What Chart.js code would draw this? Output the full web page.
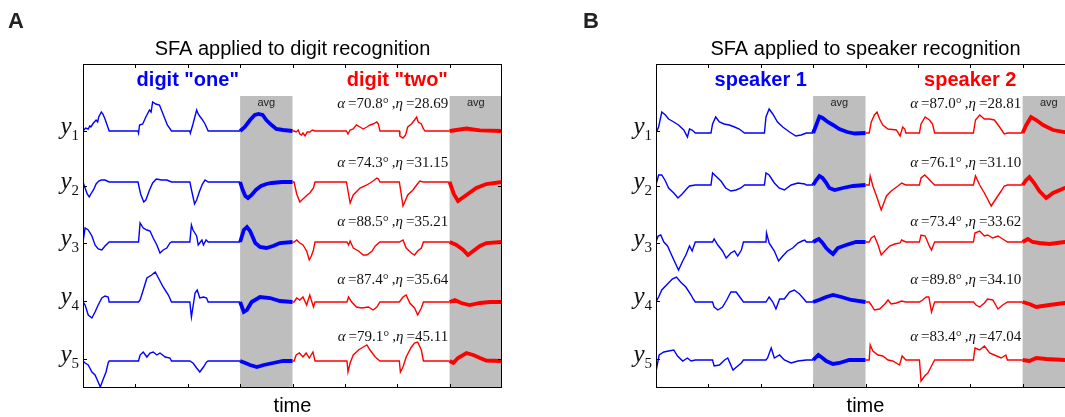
<!DOCTYPE html>
<html>
<head>
<meta charset="utf-8">
<script src="https://cdn.jsdelivr.net/npm/chart.js@4/dist/chart.umd.min.js"></script>
<style>
  html, body { margin: 0; padding: 0; background: #fff; overflow: hidden; width: 1065px; height: 417px; }
  .panel { position: absolute; top: 0; height: 417px; }
  #boxA { left: 0; width: 530px; }
  #boxB { left: 560px; width: 530px; }
</style>
</head>
<body>
<div class="panel" id="boxA"><canvas id="chartA" width="530" height="417"></canvas></div>
<div class="panel" id="boxB"><canvas id="chartB" width="530" height="417"></canvas></div>
<script>
// x runs over 8 slots: 3 word slots + avg, 3 word slots + avg
const xTicks = [1, 2, 3, 4, 5, 6, 7];
const avgBands = [[3, 4], [7, 8]];
const rowLabels = ["1", "2", "3", "4", "5"];
const rowTicks = [-66.5, -122, -179, -237, -295];
const annotY = [-40, -99, -158, -216, -273];

// resting level of each output row
const digitBase = [-67, -118, -178, -238, -297];
const speakerBase = [-69, -121, -178, -238, -296];

const digitAlpha = ["70.8", "74.3", "88.5", "87.4", "79.1"];
const digitEta = ["28.69", "31.15", "35.21", "35.64", "45.11"];
const speakerAlpha = ["87.0", "76.1", "73.4", "89.8", "83.4"];
const speakerEta = ["28.81", "31.10", "33.62", "34.10", "47.04"];

// [x, deviation] per row
const digitOne = [
  [[0,0],[0.05,3],[0.1,2],[0.13,5],[0.15,4],[0.2,8],[0.25,11],[0.28,9],[0.3,14],[0.35,19],[0.38,17],[0.42,12],[0.5,0],[1.05,0],[1.06,-2],[1.08,6],[1.14,7],[1.2,14],[1.27,21],[1.3,19],[1.33,29],[1.39,27],[1.46,26],[1.55,14],[1.61,6],[1.69,0],[2.04,0],[2.05,-2],[2.1,7],[2.17,21],[2.2,17],[2.24,14],[2.27,12],[2.33,7],[2.39,0],[3,0]],
  [[0,0],[0.04,-6],[0.08,-12],[0.12,-15],[0.16,-11],[0.2,-8],[0.25,-2],[0.3,1],[0.35,2],[0.42,2],[0.5,0],[1.05,0],[1.1,-12],[1.16,-20],[1.2,-18],[1.27,-8],[1.33,-1],[1.4,3],[1.5,2],[1.6,2],[1.69,0],[2.04,0],[2.08,-10],[2.13,-22],[2.17,-18],[2.22,-10],[2.28,-2],[2.33,2],[2.39,0],[3,0]],
  [[0,0],[0.04,14],[0.1,12],[0.17,6],[0.23,-3],[0.29,-7],[0.36,-8],[0.42,-4],[0.5,0],[1.06,0],[1.09,19],[1.15,14],[1.22,12],[1.28,11],[1.34,4],[1.41,-3],[1.47,-11],[1.53,-8],[1.6,-6],[1.66,-1],[1.69,0],[2.04,0],[2.07,17],[2.1,12],[2.17,6],[2.2,-3],[2.27,2],[2.3,-3],[2.35,2],[2.39,0],[3,0]],
  [[0,0],[0.04,-3],[0.1,-13],[0.17,-16],[0.23,-10],[0.29,-3],[0.36,4],[0.42,6],[0.48,5],[0.5,0],[1.06,0],[1.09,2],[1.15,12],[1.22,24],[1.31,27],[1.38,30],[1.44,24],[1.53,15],[1.63,7],[1.69,0],[2.04,0],[2.07,-15],[2.14,9],[2.18,12],[2.23,4],[2.3,5],[2.36,4],[2.39,0],[3,0]],
  [[0,0],[0.04,-2],[0.1,-4],[0.17,-11],[0.23,-14],[0.29,-21],[0.33,-26],[0.38,-19],[0.44,-11],[0.48,-2],[0.5,0],[1.06,0],[1.09,6],[1.15,9],[1.22,4],[1.28,8],[1.34,9],[1.41,6],[1.47,8],[1.57,4],[1.66,3],[1.69,0],[2.04,0],[2.1,-2],[2.17,-7],[2.23,-11],[2.3,-6],[2.36,-1],[2.39,0],[3,0]]
];
const digitOneAvg = [
  [[3,0],[3.09,4],[3.19,11],[3.28,16],[3.35,17],[3.43,16],[3.5,11],[3.6,6],[3.69,2],[3.82,1],[4,0]],
  [[3,0],[3.05,-8],[3.1,-14],[3.15,-16],[3.22,-13],[3.3,-8],[3.4,-4],[3.5,-2],[3.6,-1],[3.8,0],[4,0]],
  [[3,0],[3.07,12],[3.13,15],[3.19,11],[3.29,-1],[3.38,-5],[3.5,-6],[3.63,-4],[3.76,-1],[4,0]],
  [[3,0],[3.07,-10],[3.13,-8],[3.22,0],[3.38,5],[3.57,4],[3.76,1],[4,0]],
  [[3,0],[3.1,-2],[3.19,-4],[3.32,-6],[3.45,-4],[3.63,-2],[3.82,0],[4,0]]
];
const digitTwo = [
  [[4,0],[4.03,0],[4.07,-1],[4.11,1],[4.14,-3],[4.17,-4],[4.2,-2],[4.24,-5],[4.28,-1],[4.33,-1],[4.38,1],[4.43,0],[5.03,0],[5.06,-3],[5.1,1],[5.16,2],[5.22,6],[5.29,4],[5.35,2],[5.42,4],[5.48,6],[5.54,7],[5.61,9],[5.64,7],[5.67,0],[6.04,0],[6.05,-5],[6.11,-7],[6.16,-4],[6.2,4],[6.27,7],[6.33,11],[6.37,14],[6.4,9],[6.46,7],[6.5,2],[6.53,0],[7,0]],
  [[4,0],[4.03,0],[4.08,-12],[4.14,-20],[4.2,-17],[4.28,-13],[4.33,-11],[4.4,-6],[4.43,0],[5.03,0],[5.1,-21],[5.16,-13],[5.29,-6],[5.42,-3],[5.54,1],[5.61,4],[5.64,3],[5.67,0],[6.04,0],[6.11,-24],[6.2,-13],[6.3,-8],[6.37,-3],[6.43,1],[6.5,0],[7,0]],
  [[4,0],[4.03,0],[4.08,2],[4.14,-1],[4.2,-3],[4.27,-9],[4.32,-18],[4.36,-14],[4.4,-8],[4.43,0],[5.04,0],[5.07,-3],[5.1,1],[5.16,-6],[5.26,-9],[5.35,-13],[5.42,-13],[5.52,-9],[5.58,-4],[5.67,0],[6.04,0],[6.11,2],[6.17,-6],[6.27,-11],[6.33,-13],[6.39,-9],[6.46,-6],[6.5,0],[7,0]],
  [[4,0],[4.03,0],[4.08,4],[4.14,2],[4.2,5],[4.27,-3],[4.33,7],[4.4,-5],[4.43,0],[5.04,0],[5.07,5],[5.13,0],[5.22,-5],[5.32,-6],[5.45,-5],[5.54,-8],[5.61,-5],[5.67,0],[6.04,0],[6.11,5],[6.17,7],[6.24,-1],[6.33,-6],[6.39,-13],[6.46,-6],[6.5,0],[7,0]],
  [[4,0],[4.03,0],[4.07,6],[4.13,8],[4.2,4],[4.26,8],[4.32,3],[4.39,9],[4.43,0],[5.04,0],[5.06,-11],[5.1,-2],[5.16,6],[5.26,11],[5.35,14],[5.42,16],[5.48,11],[5.58,4],[5.67,0],[6.04,0],[6.06,-11],[6.11,-6],[6.17,4],[6.27,14],[6.33,18],[6.39,19],[6.46,11],[6.5,0],[7,0]]
];
const digitTwoAvg = [
  [[7,0],[7.13,1],[7.32,2.5],[7.45,1.5],[7.58,0.7],[8,0]],
  [[7,0],[7.08,-12],[7.16,-19],[7.32,-13],[7.51,-6],[7.7,-2],[8,0]],
  [[7,0],[7.13,-3],[7.26,-8],[7.35,-13],[7.45,-9],[7.58,-4],[7.7,-1],[8,0]],
  [[7,0],[7.1,2],[7.22,-1],[7.38,-3],[7.58,-1],[7.77,0],[8,0]],
  [[7,0],[7.07,-2],[7.16,3],[7.32,8],[7.45,6],[7.58,3],[7.7,0.5],[8,0]]
];

const speakerOne = [
  [[0,0],[0.05,6],[0.11,21],[0.18,18],[0.24,14],[0.34,11],[0.43,8],[0.53,3],[0.6,-4],[0.64,4],[0.69,3],[0.75,0],[1.05,0],[1.08,9],[1.14,16],[1.21,11],[1.3,9],[1.4,8],[1.5,6],[1.59,4],[1.69,0],[2.07,0],[2.1,16],[2.16,24],[2.23,19],[2.32,11],[2.42,6],[2.55,1],[2.67,-3],[2.77,-2],[2.87,0],[3,0]],
  [[0,0],[0.05,10],[0.11,10],[0.18,4],[0.24,-3],[0.34,-8],[0.42,-13],[0.5,-9],[0.6,-3],[0.64,-1],[0.75,0],[1.05,0],[1.08,12],[1.14,9],[1.24,4],[1.33,-3],[1.43,-6],[1.53,-5],[1.62,-3],[1.69,0],[2.07,0],[2.1,12],[2.16,10],[2.26,2],[2.35,-3],[2.45,-5],[2.58,0],[2.71,2],[2.84,1],[2.87,0],[3,0]],
  [[0,0],[0.04,6],[0.09,7],[0.15,0],[0.22,-4],[0.28,-11],[0.35,-19],[0.43,-28],[0.51,-19],[0.57,-13],[0.64,-4],[0.69,-9],[0.75,0],[1.08,0],[1.11,3],[1.18,-3],[1.27,-9],[1.34,-16],[1.43,-11],[1.5,-9],[1.56,-14],[1.63,-8],[1.67,0],[2.1,0],[2.11,9],[2.16,-1],[2.26,-9],[2.34,-19],[2.42,-14],[2.51,-9],[2.61,-6],[2.71,-1],[2.79,1],[2.84,2],[2.87,0],[3,0]],
  [[0,0],[0.05,5],[0.11,12],[0.22,18],[0.31,23],[0.39,25],[0.47,20],[0.57,15],[0.67,7],[0.71,3],[0.75,0],[1.08,0],[1.11,-5],[1.18,-8],[1.27,-5],[1.35,2],[1.43,10],[1.53,10],[1.6,5],[1.67,0],[2.1,0],[2.16,5],[2.23,0],[2.29,-7],[2.36,3],[2.45,3],[2.55,10],[2.64,12],[2.74,8],[2.84,2],[2.87,0],[3,0]],
  [[0,0],[0.02,-6],[0.06,5],[0.15,8],[0.24,9],[0.34,10],[0.41,4],[0.51,-1],[0.6,2],[0.67,-1],[0.75,0],[1.08,0],[1.11,-6],[1.21,-5],[1.31,0],[1.37,2],[1.47,-10],[1.56,-6],[1.63,-3],[1.67,0],[2.1,0],[2.13,2],[2.2,12],[2.26,2],[2.36,5],[2.45,0],[2.58,-3],[2.71,-1],[2.87,0],[3,0]]
];
const speakerOneAvg = [
  [[3,0],[3.06,8],[3.12,16.5],[3.18,15],[3.28,11],[3.38,8],[3.5,4],[3.65,1],[3.8,-0.5],[4,0]],
  [[3,0],[3.06,5],[3.12,9],[3.18,7],[3.24,3],[3.31,-3],[3.41,-5],[3.57,-3],[3.76,-1],[4,0]],
  [[3,0],[3.07,2],[3.11,3],[3.18,-1],[3.25,-6],[3.31,-9],[3.38,-12],[3.47,-6],[3.63,-3],[3.82,0],[4,0]],
  [[3,0],[3.11,2],[3.25,5],[3.38,7],[3.54,5],[3.73,2],[4,0]],
  [[3,0],[3.1,5],[3.18,2],[3.25,-1],[3.38,-4],[3.5,-3],[3.69,0],[4,0]]
];
const speakerTwo = [
  [[4,0],[4.07,0],[4.11,11],[4.17,18],[4.22,21],[4.27,14],[4.33,8],[4.43,4],[4.59,3],[4.66,-3],[4.71,6],[4.75,4],[4.77,0],[5.03,0],[5.06,9],[5.14,16],[5.22,13],[5.28,9],[5.32,0],[6.06,0],[6.1,13],[6.18,18],[6.27,14],[6.37,14],[6.46,13],[6.56,6],[6.65,-1],[6.71,0],[7,0]],
  [[4,0],[4.07,0],[4.09,9],[4.14,-1],[4.21,-11],[4.3,-25],[4.4,-11],[4.49,-6],[4.62,-1],[4.69,2],[4.77,0],[5.03,0],[5.06,7],[5.13,10],[5.19,7],[5.28,2],[5.32,0],[6.06,0],[6.1,9],[6.18,0],[6.27,-8],[6.4,-21],[6.5,-13],[6.59,-6],[6.65,-1],[6.71,0],[7,0]],
  [[4,0],[4.07,0],[4.11,4],[4.17,6],[4.24,-3],[4.3,-13],[4.37,-9],[4.46,-4],[4.56,-2],[4.66,-1],[4.69,2],[4.77,0],[5.03,0],[5.06,7],[5.14,6],[5.21,-3],[5.26,-8],[5.32,0],[6.06,0],[6.09,9],[6.18,11],[6.27,6],[6.33,7],[6.43,4],[6.53,6],[6.62,3],[6.71,0],[7,0]],
  [[4,0],[4.07,0],[4.11,-3],[4.17,-8],[4.27,-7],[4.37,-2],[4.43,2],[4.49,-2],[4.59,-1],[4.69,1],[4.77,0],[5.03,0],[5.09,2],[5.16,5],[5.21,5],[5.26,-10],[5.32,0],[6.06,0],[6.11,-3],[6.18,-5],[6.27,-1],[6.33,3],[6.43,2],[6.53,-7],[6.62,-3],[6.71,0],[7,0]],
  [[4,0],[4.07,0],[4.09,15],[4.14,9],[4.24,5],[4.33,4],[4.43,0],[4.52,-1],[4.65,-5],[4.7,4],[4.77,0],[5.03,0],[5.06,-21],[5.13,-16],[5.19,-13],[5.26,-6],[5.32,0],[6.06,0],[6.09,12],[6.18,10],[6.27,14],[6.37,7],[6.46,5],[6.59,2],[6.68,5],[6.71,0],[7,0]]
];
const speakerTwoAvg = [
  [[7,0],[7.07,8],[7.16,16],[7.26,13],[7.39,8],[7.58,3],[7.8,1],[8,0]],
  [[7,0],[7.07,5],[7.13,8],[7.22,2],[7.32,-6],[7.45,-13],[7.58,-8],[7.8,-3],[8,0]],
  [[7,0],[7.1,3],[7.19,0],[7.32,-1],[7.51,-2],[7.8,0],[8,0]],
  [[7,0],[7.13,-2],[7.26,-5],[7.51,-3],[7.8,-1],[8,0]],
  [[7,0],[7.13,-1],[7.26,2],[7.45,1],[7.8,0],[8,0]]
];

const BLUE = "#0000ff";
const RED = "#ff0000";
const SANS = '"Liberation Sans", Arial, sans-serif';
const SERIF = '"Liberation Serif", "Times New Roman", serif';

// one dataset per trace, shifted to its row
function traces(rows, base, color, width) {
  return rows.map((pts, r) => ({
    data: pts.map(([x, d]) => ({ x: x, y: base[r] + d })),
    borderColor: color,
    borderWidth: width,
    pointRadius: 0,
    showLine: true,
    tension: 0,
    fill: false
  }));
}

// alpha / eta label, right aligned
function drawStat(ctx, xr, yc, alpha, eta) {
  const parts = [
    ["α", "italic 15px " + SERIF],
    ["\u2009=" + alpha + "°\u2009,", "15px " + SERIF],
    ["η", "italic 15px " + SERIF],
    ["\u2009=" + eta, "15px " + SERIF]
  ];
  let w = 0;
  parts.forEach(p => { ctx.font = p[1]; w += ctx.measureText(p[0]).width; });
  let x = xr - w;
  ctx.textAlign = "left";
  ctx.textBaseline = "middle";
  ctx.fillStyle = "#111";
  parts.forEach(p => { ctx.font = p[1]; ctx.fillText(p[0], x, yc); x += ctx.measureText(p[0]).width; });
}

const decoPlugin = {
  id: "deco",
  beforeDatasetsDraw(chart, args, o) {
    const { ctx, chartArea: a, scales: { x, y } } = chart;
    ctx.save();
    ctx.fillStyle = "#bebebe";
    const top = y.getPixelForValue(-32);
    avgBands.forEach(([x0, x1]) => {
      const p0 = x.getPixelForValue(x0), p1 = x.getPixelForValue(x1);
      ctx.fillRect(p0, top, p1 - p0, a.bottom - top);
    });
    ctx.fillStyle = "#222";
    ctx.font = "11px " + SANS;
    ctx.textAlign = "center";
    ctx.textBaseline = "middle";
    avgBands.forEach(([x0, x1]) => {
      ctx.fillText("avg", x.getPixelForValue((x0 + x1) / 2), y.getPixelForValue(-38.5));
    });
    ctx.restore();
  },
  afterDatasetsDraw(chart, args, o) {
    const { ctx, chartArea: a, scales: { x, y } } = chart;
    ctx.save();
    // stats
    annotY.forEach((v, i) => drawStat(ctx, x.getPixelForValue(7) - 1.5, y.getPixelForValue(v), o.alpha[i], o.eta[i]));
    // box and ticks
    ctx.strokeStyle = "#000";
    ctx.lineWidth = 1;
    ctx.strokeRect(a.left + 0.5, a.top + 0.5, a.right - a.left - 1, a.bottom - a.top - 1);
    ctx.beginPath();
    xTicks.forEach(t => {
      const px = Math.round(x.getPixelForValue(t)) + 0.5;
      ctx.moveTo(px, a.top); ctx.lineTo(px, a.top + 4);
      ctx.moveTo(px, a.bottom); ctx.lineTo(px, a.bottom - 4);
    });
    rowTicks.forEach(t => {
      const py = Math.round(y.getPixelForValue(t)) + 0.5;
      ctx.moveTo(a.left, py); ctx.lineTo(a.left + 4, py);
      ctx.moveTo(a.right, py); ctx.lineTo(a.right - 4, py);
    });
    ctx.stroke();
    // row labels y_1 .. y_5
    ctx.fillStyle = "#111";
    ctx.textBaseline = "alphabetic";
    rowTicks.forEach((t, i) => {
      const py = y.getPixelForValue(t);
      ctx.font = "15px " + SERIF;
      const sw = ctx.measureText(rowLabels[i]).width;
      ctx.textAlign = "right";
      ctx.fillText(rowLabels[i], a.left - 4, py + 9);
      ctx.font = "italic 25px " + SERIF;
      ctx.fillText("y", a.left - 4 - sw, py + 3);
    });
    // headings inside the box
    ctx.textAlign = "center";
    ctx.font = "bold 20px " + SANS;
    ctx.fillStyle = BLUE;
    ctx.fillText(o.left, x.getPixelForValue(2), 86);
    ctx.fillStyle = RED;
    ctx.fillText(o.right, x.getPixelForValue(6), 86);
    // title, x label, panel letter
    const cx = (a.left + a.right) / 2;
    ctx.fillStyle = "#000";
    ctx.font = "20px " + SANS;
    ctx.fillText(o.title, cx, 55);
    ctx.fillText("time", cx, 412);
    ctx.font = "bold 22px " + SANS;
    ctx.fillStyle = "#222";
    ctx.textAlign = "left";
    ctx.fillText(o.letter, o.letterX, 28);
    ctx.restore();
  }
};

function makePanel(id, pad, words1, avg1, words2, avg2, base, deco) {
  return new Chart(document.getElementById(id), {
    type: "scatter",
    data: {
      datasets: [
        ...traces(words1, base, BLUE, 1.4),
        ...traces(words2, base, RED, 1.4),
        ...traces(avg1, base, BLUE, 3.8),
        ...traces(avg2, base, RED, 3.8)
      ]
    },
    options: {
      responsive: false,
      animation: false,
      layout: { padding: pad },
      scales: {
        x: { type: "linear", min: 0, max: 8, display: false },
        y: { type: "linear", min: -324, max: 0, display: false }
      },
      plugins: { legend: { display: false }, tooltip: { enabled: false }, deco: deco }
    },
    plugins: [decoPlugin]
  });
}

makePanel("chartA", { left: 83, right: 28, top: 64, bottom: 29 },
  digitOne, digitOneAvg, digitTwo, digitTwoAvg, digitBase,
  { title: "SFA applied to digit recognition", left: 'digit "one"', right: 'digit "two"',
    alpha: digitAlpha, eta: digitEta, letter: "A", letterX: 8 });

makePanel("chartB", { left: 96, right: 15, top: 64, bottom: 29 },
  speakerOne, speakerOneAvg, speakerTwo, speakerTwoAvg, speakerBase,
  { title: "SFA applied to speaker recognition", left: "speaker 1", right: "speaker 2",
    alpha: speakerAlpha, eta: speakerEta, letter: "B", letterX: 23 });
</script>
</body>
</html>
